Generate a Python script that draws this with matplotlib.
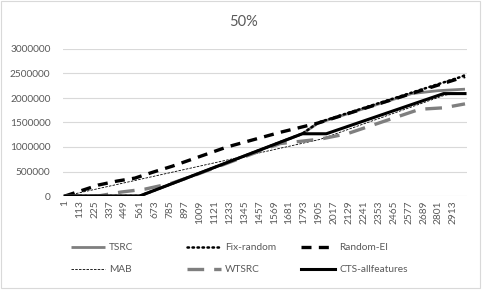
import numpy as np
import matplotlib
matplotlib.use("Agg")
import matplotlib.pyplot as plt
from matplotlib.patches import Rectangle

plt.rcParams['font.family'] = ['Lato', 'DejaVu Sans']

# category index -> cumulative value at knot points
tsrc_x = [1, 561, 1780, 1900, 2600, 2800, 3000]
tsrc_y = [0, 0, 1270000, 1490000, 2090000, 2150000, 2180000]

fix_x = [1, 561, 1780, 1900, 2980, 3000]
fix_y = [0, 0, 1270000, 1500000, 2440000, 2470000]

rei_x = [1, 250, 390, 525, 660, 805, 1215, 1615, 1900, 2980, 3000]
rei_y = [0, 223000, 304000, 365000, 486000, 608000, 1000000, 1300000, 1490000, 2420000, 2440000]

mab_x = [1, 1913, 2850, 3000]
mab_y = [0, 1155000, 2060000, 2100000]

wtsrc_x = [1, 250, 420, 600, 800, 950, 1613, 1913, 2116, 2660, 2840, 3000]
wtsrc_y = [0, 0, 80000, 140000, 260000, 400000, 1070000, 1160000, 1270000, 1770000, 1800000, 1880000]

cts_x = [1, 561, 1780, 1960, 2840, 3000]
cts_y = [0, 0, 1270000, 1270000, 2090000, 2090000]

tick_cats = list(range(1, 3000, 112))
y_ticks = [0, 500000, 1000000, 1500000, 2000000, 2500000, 3000000]

txt = '#595959'
W, H = 486, 295
fig = plt.figure(figsize=(W / 100, H / 100), dpi=100)
fig.patches.append(Rectangle((1 / W, 1 - 288 / H), 479 / W, 287 / H, transform=fig.transFigure,
                             fill=False, edgecolor='#d9d9d9', linewidth=0.8))

ax = fig.add_axes([63 / W, (H - 196) / H, (467 - 63) / W, 147 / H])

l_tsrc, = ax.plot(tsrc_x, tsrc_y, color='#7f7f7f', lw=2.0, solid_capstyle='butt', zorder=2)
l_fix, = ax.plot(fix_x, fix_y, color='black', lw=1.8, linestyle=(0, (0.6, 1.4)),
                 dash_capstyle='round', zorder=3)
l_rei, = ax.plot(rei_x, rei_y, color='black', lw=2.4, linestyle=(0, (3, 2.2)), zorder=4)
l_mab, = ax.plot(mab_x, mab_y, color='black', lw=0.6, linestyle=(0, (3, 1.5)), zorder=5)
l_wt, = ax.plot(wtsrc_x, wtsrc_y, color='#7f7f7f', lw=2.4, linestyle=(0, (5, 3)), zorder=6)
l_cts, = ax.plot(cts_x, cts_y, color='black', lw=2.2, zorder=7)

ax.set_xlim(-14, 3015)
ax.set_ylim(0, 3000000)
ax.set_yticks(y_ticks)
ax.set_yticklabels([str(v) for v in y_ticks])
ax.set_xticks(tick_cats)
ax.set_xticklabels([str(c) for c in tick_cats], rotation=90)
ax.tick_params(axis='both', length=0, labelsize=7.3, colors=txt)
ax.tick_params(axis='y', pad=9)
ax.tick_params(axis='x', pad=3)
ax.grid(axis='y', color='#d9d9d9', lw=0.8)
ax.set_axisbelow(True)
for s in ax.spines.values():
    s.set_visible(False)

fig.text(243 / W, 1 - 22 / H, '50%', ha='center', va='center', fontsize=10.5, color=txt)

cols = [([l_tsrc, l_mab], ['TSRC', 'MAB'], 71),
        ([l_fix, l_wt], ['Fix-random', 'WTSRC'], 187),
        ([l_rei, l_cts], ['Random-EI', 'CTS-allfeatures'], 301)]
for hs, labs, x0 in cols:
    lg = fig.legend(hs, labs, loc='upper left', bbox_to_anchor=(x0 / W, 1 - 243 / H),
                    frameon=False, fontsize=7.3, handlelength=3.4, handletextpad=0.35,
                    labelspacing=1.3, borderpad=0, borderaxespad=0)
    for t in lg.get_texts():
        t.set_color(txt)

fig.savefig('out.png', dpi=100)
